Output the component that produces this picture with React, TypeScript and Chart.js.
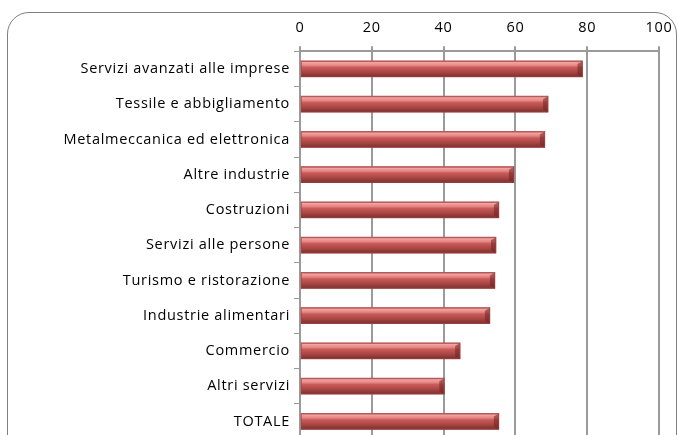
import React, { useEffect, useRef } from "react";
import { Chart, registerables } from "chart.js";

Chart.register(...registerables);

const categories = [
  "Servizi avanzati alle imprese",
  "Tessile e abbigliamento",
  "Metalmeccanica ed elettronica",
  "Altre industrie",
  "Costruzioni",
  "Servizi alle persone",
  "Turismo e ristorazione",
  "Industrie alimentari",
  "Commercio",
  "Altri servizi",
  "TOTALE",
];

const values = [78.7, 69.1, 68.2, 59.6, 55.4, 54.6, 54.3, 52.9, 44.6, 40.2, 55.4];

const xTicks = [0, 20, 40, 60, 80, 100];

const spacingPlugin = {
  id: "letterSpacing",
  beforeDraw(chart: any) {
    chart.ctx.letterSpacing = "0.7px";
  },
};

const bevelPlugin = {
  id: "bevelBars",
  afterDatasetsDraw(chart: any) {
    const ctx = chart.ctx;
    const meta = chart.getDatasetMeta(0);
    meta.data.forEach((el: any) => {
      const p = el.getProps(["x", "y", "base", "height"], true);
      const left = Math.min(p.base, p.x);
      const right = Math.max(p.base, p.x);
      const top = p.y - p.height / 2;
      const bottom = p.y + p.height / 2;
      const h = bottom - top;
      const g = ctx.createLinearGradient(0, top, 0, bottom);
      g.addColorStop(0, "#c96e6c");
      g.addColorStop(0.1, "#f2a3a1");
      g.addColorStop(0.28, "#e58583");
      g.addColorStop(0.4, "#c95b58");
      g.addColorStop(0.7, "#a84644");
      g.addColorStop(1, "#7a2e2d");
      ctx.save();
      ctx.fillStyle = g;
      ctx.fillRect(left, top, right - left, h);
      const b = 5;
      ctx.beginPath();
      ctx.moveTo(right - b, top + 3);
      ctx.lineTo(right, top);
      ctx.lineTo(right, bottom);
      ctx.lineTo(right - b, bottom - 3);
      ctx.closePath();
      ctx.fillStyle = "rgba(110,35,34,0.55)";
      ctx.fill();
      ctx.strokeStyle = "rgba(150,70,70,0.6)";
      ctx.lineWidth = 1;
      ctx.strokeRect(left + 0.5, top + 0.5, right - left - 1, h - 1);
      ctx.restore();
    });
  },
};

export default function App() {
  const ref = useRef<HTMLCanvasElement | null>(null);
  useEffect(() => {
    if (!ref.current) return;
    const chart = new Chart(ref.current, {
      type: "bar",
      data: {
        labels: categories,
        datasets: [
          {
            data: values,
            backgroundColor: "#c0504d",
            barThickness: 16,
          },
        ],
      },
      options: {
        indexAxis: "y",
        responsive: false,
        animation: false,
        layout: { padding: { top: 8.5, right: 0, left: 0, bottom: 0 } },
        plugins: { legend: { display: false }, tooltip: { enabled: false } },
        scales: {
          x: {
            position: "top",
            min: 0,
            max: 100,
            afterBuildTicks: (scale: any) => {
              scale.ticks = xTicks.map((v) => ({ value: v }));
            },
            afterFit: (scale: any) => {
              scale.paddingRight = 19;
              scale.paddingLeft = 0;
            },
            ticks: {
              color: "#000",
              font: { family: "Open Sans", size: 14.5 },
              padding: 10.2,
            },
            grid: { color: "#9a9a9a", lineWidth: 2, tickLength: 5 },
            border: { color: "#9a9a9a", width: 2 },
          },
          y: {
            afterFit: (scale: any) => {
              scale.width = 300;
              scale.paddingTop = 0;
              scale.paddingBottom = 0;
            },
            ticks: {
              color: "#000",
              font: { family: "Open Sans", size: 14.5 },
              padding: 4,
            },
            grid: {
              drawOnChartArea: false,
              color: "#9a9a9a",
              lineWidth: 1,
              tickLength: 6,
            },
            border: { color: "#9a9a9a", width: 2 },
          },
        },
      },
      plugins: [spacingPlugin, bevelPlugin],
    });
    return () => chart.destroy();
  }, []);
  return (
    <div
      style={{
        position: "fixed",
        left: 0,
        top: 0,
        width: 678,
        height: 435,
        overflow: "hidden",
        background: "#fff",
      }}
    >
      <div
        style={{
          position: "absolute",
          left: 7,
          top: 12,
          width: 668,
          height: 460,
          border: "1.5px solid #7f7f7f",
          borderRadius: 22,
        }}
      />
      <canvas
        ref={ref}
        width={678}
        height={439}
        style={{ position: "absolute", left: 0, top: 0 }}
      />
    </div>
  );
}
